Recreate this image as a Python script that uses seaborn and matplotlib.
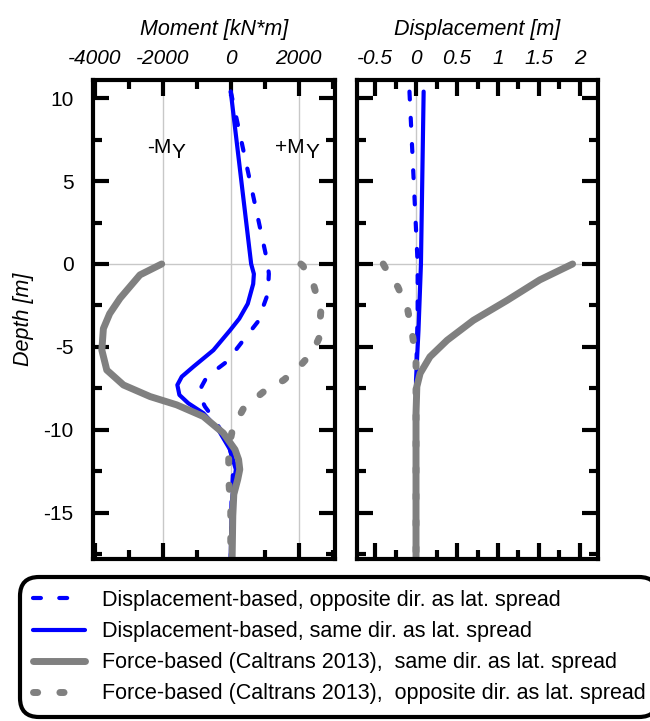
import matplotlib
matplotlib.use("Agg")
import matplotlib.pyplot as plt
import matplotlib.transforms as mtransforms
from matplotlib.ticker import MultipleLocator
import seaborn as sns

# ---- moment profiles, kN*m vs depth m
depth_mom_disp_opp = [10.4, 0, -0.6, -1.8, -3.5, -4.6, -5.9, -6.8, -7.4, -8.0, -8.6, -9.3, -10.0, -10.7, -12, -14, -17.8]
mom_disp_opp = [0, 1090, 1120, 1090, 790, 370, -120, -700, -860, -900, -760, -510, -300, -90, 80, 30, 0]

depth_mom_disp_same = [10.4, 0, -0.6, -1.2, -2.4, -3.3, -4.0, -5.2, -6.2, -6.8, -7.3, -7.9, -8.4, -9.0, -10.0, -11.2, -12.4, -13.2, -14.4, -17.8]
mom_disp_same = [0, 600, 680, 660, 500, 250, -20, -510, -1100, -1440, -1570, -1510, -1250, -805, -365, -20, 150, 90, 30, 0]

depth_mom_force_same = [0.0, -0.66, -2.07, -3.0, -3.9, -5.2, -6.4, -7.3, -8.0, -8.5, -9.2, -10.2, -11.2, -11.8, -12.4, -13.0, -13.9, -15.2, -17.8]
mom_force_same = [-2030, -2670, -3255, -3560, -3745, -3790, -3645, -3155, -2370, -1590, -805, -220, 125, 230, 265, 205, 90, 60, 40]

depth_mom_force_opp = [0, -0.1, -1.3, -2.8, -4.5, -5.3, -6.1, -7.0, -7.7, -8.7, -9.9, -11.1, -13.0, -14.8, -17.8]
mom_force_opp = [2060, 2120, 2440, 2650, 2590, 2410, 2060, 1560, 970, 380, 60, -60, -60, 0, 0]

# ---- displacement profiles, m vs depth m
depth_dsp_disp_opp = [10.4, 0, -3, -6, -17.8]
dsp_disp_opp = [-0.08, 0.02, 0.02, 0.005, 0.0]

depth_dsp_disp_same = [10.4, 0, -2, -4, -6, -7, -17.8]
dsp_disp_same = [0.093, 0.06, 0.045, 0.03, 0.01, 0.0, 0.0]

depth_dsp_force_same = [0, -0.96, -2.2, -3.4, -4.6, -5.6, -6.6, -7.4, -9, -12, -17.8]
dsp_force_same = [1.91, 1.51, 1.11, 0.70, 0.38, 0.17, 0.05, 0.01, 0.0, 0.0, 0.0]

depth_dsp_force_opp = [0, -0.18, -1.4, -2.8, -4.4, -5.8, -17.8]
dsp_force_opp = [-0.40, -0.38, -0.22, -0.10, -0.04, 0.0, 0.0]

labels = ["Displacement-based, opposite dir. as lat. spread",
          "Displacement-based, same dir. as lat. spread",
          "Force-based (Caltrans 2013),  same dir. as lat. spread",
          "Force-based (Caltrans 2013),  opposite dir. as lat. spread"]

mom_ticks = [-4000, -2000, 0, 2000]
dsp_ticks = [-0.5, 0, 0.5, 1, 1.5, 2]
dsp_ticklabels = ["-0.5", "0", "0.5", "1", "1.5", "2"]
depth_ticks = [10, 5, 0, -5, -10, -15]
my_levels = [-2000, 2000]

sns.set_style("white")
plt.rcParams['font.family'] = ['Liberation Sans', 'DejaVu Sans']
plt.rcParams['axes.unicode_minus'] = False
for k in ('text.color', 'axes.labelcolor', 'xtick.color', 'ytick.color', 'xtick.labelcolor', 'ytick.labelcolor'):
    plt.rcParams[k] = 'black'

styles = [dict(color='blue', lw=3, linestyle=(0, (1.9, 4.4)), dash_capstyle='round'),
          dict(color='blue', lw=3),
          dict(color='gray', lw=5, solid_capstyle='round'),
          dict(color='gray', lw=5, linestyle=(0, (0.6, 3.2)), dash_capstyle='round')]

fig = plt.figure(figsize=(6.5, 7.21), dpi=100)
ax1 = fig.add_axes([93/650, 1-559/721, 242/650, 479/721])
ax2 = fig.add_axes([357/650, 1-559/721, 241/650, 479/721])

grid_kw = dict(color='#c8c8c8', lw=1, zorder=0)
for v in my_levels + [0]:
    ax1.axvline(v, **grid_kw)
ax1.axhline(0, **grid_kw)
ax2.axvline(0, **grid_kw)
ax2.axhline(0, **grid_kw)

mom_series = [(mom_disp_opp, depth_mom_disp_opp), (mom_disp_same, depth_mom_disp_same),
              (mom_force_same, depth_mom_force_same), (mom_force_opp, depth_mom_force_opp)]
dsp_series = [(dsp_disp_opp, depth_dsp_disp_opp), (dsp_disp_same, depth_dsp_disp_same),
              (dsp_force_same, depth_dsp_force_same), (dsp_force_opp, depth_dsp_force_opp)]
order = [0, 1, 3, 2]  # gray solid drawn last
for i in order:
    x, y = mom_series[i]
    sns.lineplot(x=x, y=y, sort=False, estimator=None, ax=ax1, legend=False, label=labels[i], **styles[i])
    x, y = dsp_series[i]
    sns.lineplot(x=x, y=y, sort=False, estimator=None, ax=ax2, legend=False, **styles[i])

ax1.set_xlim(-4050, 3065)
ax2.set_xlim(-0.72, 2.22)
for ax in (ax1, ax2):
    ax.set_ylim(-17.8, 11.1)
    ax.set_yticks(depth_ticks)
    ax.yaxis.set_minor_locator(MultipleLocator(2.5))
    for s in ax.spines.values():
        s.set_linewidth(3)
        s.set_color('black')
    ax.tick_params(which='both', direction='in', top=True, bottom=True, left=True, right=True,
                   labeltop=True, labelbottom=False, labelright=False, color='black', width=3)
    ax.tick_params(which='major', length=11.5, labelsize=15)
    ax.tick_params(which='minor', length=6.5)
    ax.tick_params(axis='x', pad=9)
    ax.tick_params(axis='y', pad=14)
    ax.xaxis.set_label_position('top')
    ax.set_ylabel('')

ax1.set_xticks(mom_ticks, [str(t) for t in mom_ticks], fontstyle='italic')
ax1.xaxis.set_minor_locator(MultipleLocator(1000))
ax2.set_xticks(dsp_ticks, dsp_ticklabels, fontstyle='italic')
ax2.xaxis.set_minor_locator(MultipleLocator(0.25))
ax2.tick_params(labelleft=False)

ax1.set_xlabel('Moment [kN*m]', fontsize=15.5, fontstyle='italic', labelpad=10)
ax2.set_xlabel('Displacement [m]', fontsize=15.5, fontstyle='italic', labelpad=10)
ax1.set_ylabel('Depth [m]', fontsize=15.5, fontstyle='italic', labelpad=7)

# yield moment labels
down = mtransforms.offset_copy(ax1.transData, fig=fig, x=0, y=-5, units='dots')
ax1.text(-1735, 6.7, '-M', ha='right', va='baseline', fontsize=15)
ax1.text(-1735, 6.7, 'Y', ha='left', va='baseline', fontsize=15, transform=down)
ax1.text(2185, 6.7, '+M', ha='right', va='baseline', fontsize=15)
ax1.text(2185, 6.7, 'Y', ha='left', va='baseline', fontsize=15, transform=down)

handles, labs = ax1.get_legend_handles_labels()
hmap = dict(zip(labs, handles))
leg = fig.legend([hmap[l] for l in labels], labels, loc='upper left',
                 bbox_to_anchor=(20/650, 1-577/721), bbox_transform=fig.transFigure,
                 fontsize=15.5, frameon=True, fancybox=True, framealpha=1,
                 handlelength=2.4, handletextpad=0.8, labelspacing=0.47,
                 borderpad=0.6, borderaxespad=0)
frame = leg.get_frame()
frame.set_edgecolor('black')
frame.set_linewidth(3)
frame.set_boxstyle('round', pad=0, rounding_size=0.9)

fig.savefig('out.png', dpi=100)
